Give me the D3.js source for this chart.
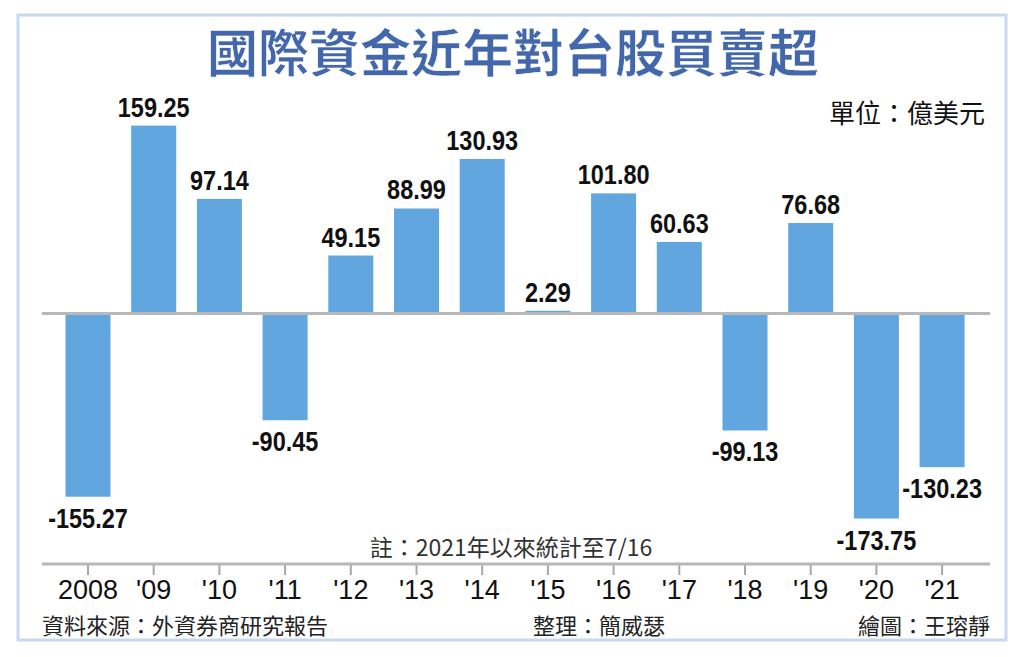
<!DOCTYPE html>
<html>
<head>
<meta charset="utf-8">
<script src="https://cdn.jsdelivr.net/npm/d3@7"></script>
<style>
  html, body { margin: 0; padding: 0; background: #fff; }
  svg { display: block; }
</style>
</head>
<body>
<svg id="chart" width="1024" height="657"></svg>
<script>
// data
const years = ['2008', "'09", "'10", "'11", "'12", "'13", "'14", "'15", "'16", "'17", "'18", "'19", "'20", "'21"];
const netBuy = [-155.27, 159.25, 97.14, -90.45, 49.15, 88.99, 130.93, 2.29, 101.80, 60.63, -99.13, 76.68, -173.75, -130.23];

const title = '國際資金近年對台股買賣超';
const unitText = '單位：億美元';
const noteText = '註：2021年以來統計至7/16';
const sourceText = '資料來源：外資券商研究報告';
const editorText = '整理：簡威瑟';
const artistText = '繪圖：王瑢靜';

const cjk = '"Noto Sans CJK TC", "Noto Sans CJK SC", sans-serif';
const num = '"Liberation Sans", Arial, sans-serif';

const svg = d3.select('#chart');

// frame
svg.append('rect')
  .attr('x', 18).attr('y', 15)
  .attr('width', 988).attr('height', 625)
  .attr('fill', '#fff')
  .attr('stroke', '#c6d9ee')
  .attr('stroke-width', 3);

// title
svg.append('text')
  .attr('x', 513).attr('y', 72)
  .attr('text-anchor', 'middle')
  .attr('font-family', cjk)
  .attr('font-weight', 700)
  .attr('font-size', 51)
  .attr('fill', '#4267aa')
  .attr('stroke', '#ffffff')
  .attr('stroke-width', 0.6)
  .text(title);

svg.append('text')
  .attr('x', 985).attr('y', 123)
  .attr('text-anchor', 'end')
  .attr('font-family', cjk)
  .attr('font-size', 26)
  .attr('fill', '#111')
  .text(unitText);

// scales
const x = d3.scaleBand()
  .domain(years)
  .range([55.15, 974.95])
  .paddingInner(0.315)
  .paddingOuter(0.1575);

const y = d3.scaleLinear()
  .domain([-200, 200])
  .range([313.5 + 236, 313.5 - 236]);

// bars
svg.append('g')
  .selectAll('rect')
  .data(netBuy)
  .join('rect')
  .attr('x', (d, i) => x(years[i]))
  .attr('width', x.bandwidth())
  .attr('y', d => y(Math.max(0, d)))
  .attr('height', d => Math.abs(y(d) - y(0)))
  .attr('fill', '#62a6df');

// zero line
svg.append('line')
  .attr('x1', 42).attr('x2', 990)
  .attr('y1', y(0)).attr('y2', y(0))
  .attr('stroke', '#b8b8b8')
  .attr('stroke-width', 3);

// value labels, condensed like the original
svg.append('g')
  .selectAll('text')
  .data(netBuy)
  .join('text')
  .attr('transform', (d, i) => {
    const cx = x(years[i]) + x.bandwidth() / 2;
    const cy = d >= 0 ? y(d) - 9 : y(d) + 31;
    return `translate(${cx},${cy}) scale(0.84,1)`;
  })
  .attr('text-anchor', 'middle')
  .attr('font-family', num)
  .attr('font-weight', 700)
  .attr('font-size', 28)
  .attr('fill', '#111')
  .text(d => d.toFixed(2));

// note
svg.append('text')
  .attr('x', 511).attr('y', 556)
  .attr('text-anchor', 'middle')
  .attr('font-family', cjk)
  .attr('font-size', 23)
  .attr('fill', '#333')
  .text(noteText);

// bottom axis
const xAxis = d3.axisBottom(x).tickSize(11).tickSizeOuter(0).tickPadding(5);
const axisG = svg.append('g')
  .attr('transform', 'translate(0,564)')
  .call(xAxis);
axisG.select('.domain').remove();
axisG.append('line')
  .attr('x1', 42).attr('x2', 990)
  .attr('stroke', '#b8b8b8')
  .attr('stroke-width', 3);
axisG.selectAll('.tick line')
  .attr('stroke', '#a8a8a8')
  .attr('stroke-width', 2);
axisG.selectAll('.tick text')
  .attr('font-family', num)
  .attr('font-size', 27)
  .attr('fill', '#111');

// footer
const footer = [
  { t: sourceText, x: 42, a: 'start' },
  { t: editorText, x: 599, a: 'middle' },
  { t: artistText, x: 990, a: 'end' }
];
svg.append('g')
  .selectAll('text')
  .data(footer)
  .join('text')
  .attr('x', d => d.x)
  .attr('y', 634)
  .attr('text-anchor', d => d.a)
  .attr('font-family', cjk)
  .attr('font-size', 22)
  .attr('fill', '#222')
  .text(d => d.t);
</script>
</body>
</html>
